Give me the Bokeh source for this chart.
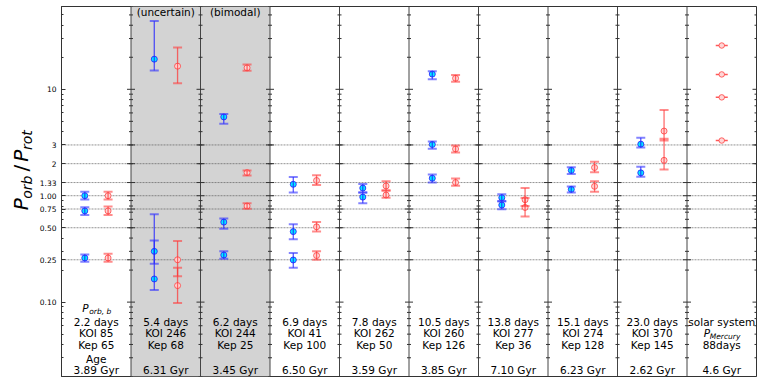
import numpy as np
from bokeh.plotting import figure
from bokeh.layouts import row
from bokeh.models import (ColumnDataSource, Whisker, TeeHead, Span, BoxAnnotation,
                          FixedTicker, Range1d)
from bokeh.core.properties import value
from bokeh.embed import file_html
from bokeh.resources import INLINE

# ---------------- data ----------------
n_cols = 10
shaded_cols = [1, 2]
notes = ["", "(uncertain)", "(bimodal)", "", "", "", "", "", "", ""]
line1 = ["2.2 days", "5.4 days", "6.2 days", "6.9 days", "7.8 days", "10.5 days",
         "13.8 days", "15.1 days", "23.0 days", "solar system"]
line2 = ["KOI 85", "KOI 246", "KOI 244", "KOI 41", "KOI 262", "KOI 260",
         "KOI 277", "KOI 274", "KOI 370", ""]
line3 = ["Kep 65", "Kep 68", "Kep 25", "Kep 100", "Kep 50", "Kep 126",
         "Kep 36", "Kep 128", "Kep 145", "88days"]
ages = ["3.89 Gyr", "6.31 Gyr", "3.45 Gyr", "6.50 Gyr", "3.59 Gyr", "3.85 Gyr",
        "7.10 Gyr", "6.23 Gyr", "2.62 Gyr", "4.6 Gyr"]

blue_col = [0, 0, 0, 1, 1, 1, 2, 2, 2, 3, 3, 3, 4, 4, 5, 5, 5, 6, 6, 7, 7, 8, 8]
blue_val = [1.00, 0.72, 0.26, 19.2, 0.30, 0.165, 5.5, 0.565, 0.277, 1.28, 0.46, 0.249,
            1.18, 0.97, 13.9, 3.03, 1.46, 0.958, 0.817, 1.73, 1.147, 3.05, 1.64]
blue_lo = [0.92, 0.66, 0.24, 15.0, 0.23, 0.13, 4.75, 0.49, 0.255, 1.07, 0.39, 0.21,
           1.07, 0.85, 12.4, 2.77, 1.33, 0.88, 0.745, 1.60, 1.07, 2.84, 1.51]
blue_hi = [1.09, 0.78, 0.28, 43.8, 0.67, 0.38, 5.85, 0.61, 0.30, 1.50, 0.54, 0.29,
           1.29, 1.07, 14.8, 3.23, 1.58, 1.03, 0.89, 1.85, 1.22, 3.50, 1.87]

red_col = [0, 0, 0, 1, 1, 1, 2, 2, 2, 3, 3, 3, 4, 4, 5, 5, 5, 6, 6, 7, 7, 8, 8]
red_val = [1.00, 0.72, 0.26, 16.5, 0.25, 0.143, 15.9, 1.65, 0.80, 1.39, 0.51, 0.274,
           1.235, 1.015, 12.7, 2.75, 1.33, 0.917, 0.776, 1.84, 1.225, 4.05, 2.15]
red_lo = [0.92, 0.66, 0.24, 11.4, 0.175, 0.098, 14.9, 1.55, 0.755, 1.26, 0.46, 0.25,
          1.12, 0.958, 11.8, 2.55, 1.24, 0.80, 0.638, 1.66, 1.09, 3.30, 1.76]
red_hi = [1.09, 0.79, 0.285, 24.7, 0.375, 0.21, 17.1, 1.73, 0.85, 1.56, 0.565, 0.30,
          1.365, 1.12, 13.6, 2.96, 1.45, 1.18, 0.95, 2.08, 1.365, 6.4, 3.43]

solar_col = [9, 9, 9, 9]
solar_val = [25.8, 13.8, 8.4, 3.3]

major_ticks = [0.10, 0.25, 0.50, 0.75, 1.00, 1.33, 2.0, 3.0, 10.0]
tick_labels = ["0.10", "0.25", "0.50", "0.75", "1.00", "1.33", "2", "3", "10"]
minor_ticks = [0.02, 0.03, 0.04, 0.05, 0.06, 0.07, 0.08, 0.09,
               0.2, 0.3, 0.4, 0.5, 0.6, 0.7, 0.8, 0.9,
               2, 3, 4, 5, 6, 7, 8, 9, 20, 30, 40, 50, 60]
ref_lines = [0.25, 0.50, 0.75, 1.00, 1.33, 2.0, 3.0]

ylabel_parts = ["P", "orb", "/", "P", "rot"]

# ---------------- style constants ----------------
FONT = "DejaVu Sans"
H = 378
LBL_W = 34
BLUE_DX, RED_DX, SOLAR_DX = 0.335, 0.67, 0.5
NOTE_Y = 53.0
PORB_Y, L1_Y, L2_Y, L3_Y, AGEH_Y, AGE_Y = 0.0878, 0.0655, 0.0511, 0.0399, 0.0290, 0.0228

p = figure(width=757 - LBL_W, height=H, y_axis_type="log",
           x_range=Range1d(0, n_cols), y_range=Range1d(0.02, 60),
           output_backend="svg", toolbar_location=None, x_axis_location=None,
           min_border_left=61 - LBL_W, min_border_right=1, min_border_top=6,
           min_border_bottom=2)
p.xgrid.visible = False
p.ygrid.visible = False
p.outline_line_color = "#333333"
p.outline_line_width = 1
p.background_fill_color = "white"

ax = p.yaxis[0]
ax.ticker = FixedTicker(ticks=major_ticks, minor_ticks=minor_ticks)
ax.major_label_overrides = {t: l for t, l in zip(major_ticks, tick_labels)}
ax.major_tick_in = 4
ax.major_tick_out = 0
ax.minor_tick_in = 2
ax.minor_tick_out = 0
ax.axis_line_color = "#333333"
ax.major_tick_line_color = "#333333"
ax.minor_tick_line_color = "#333333"
ax.major_label_text_font = FONT
ax.major_label_text_font_size = "7.5px"
ax.major_label_text_color = "black"
ax.major_label_standoff = 5

# shaded panels
for c in shaded_cols:
    p.add_layout(BoxAnnotation(left=c, right=c + 1, fill_color="#d3d3d3", fill_alpha=1.0,
                               line_color=None, level="underlay"))

# dashed reference lines
for v in ref_lines:
    p.add_layout(Span(location=v, dimension="width", line_color="#555555", line_width=0.8,
                      line_dash="2 1", line_alpha=0.8, level="underlay"))

# column borders
for c in range(1, n_cols):
    p.add_layout(Span(location=c, dimension="height", line_color="#444444", line_width=1,
                      level="underlay"))

# inward ticks on the column borders
bx_major, by_major, bx_minor, by_minor = [], [], [], []
for c in range(1, n_cols + 1):
    for t in major_ticks:
        bx_major.append(c)
        by_major.append(t)
    for t in minor_ticks:
        bx_minor.append(c)
        by_minor.append(t)
p.scatter(bx_major, by_major, marker="dash", size=8, line_color="#333333", line_width=1)
p.scatter(bx_minor, by_minor, marker="dash", size=4, line_color="#333333", line_width=1)

# error bars
bsrc = ColumnDataSource(dict(x=np.array(blue_col) + BLUE_DX, y=blue_val, lo=blue_lo, hi=blue_hi))
rsrc = ColumnDataSource(dict(x=np.array(red_col) + RED_DX, y=red_val, lo=red_lo, hi=red_hi))

p.add_layout(Whisker(base="x", upper="hi", lower="lo", source=bsrc, dimension="height",
                     line_color="#2020ff", line_alpha=0.75, line_width=1.3, level="glyph",
                     upper_head=TeeHead(size=9, line_color="#3030ff", line_alpha=0.6, line_width=2),
                     lower_head=TeeHead(size=9, line_color="#3030ff", line_alpha=0.6, line_width=2)))
p.add_layout(Whisker(base="x", upper="hi", lower="lo", source=rsrc, dimension="height",
                     line_color="#ff3030", line_alpha=0.7, line_width=1.3, level="glyph",
                     upper_head=TeeHead(size=9, line_color="#ff4040", line_alpha=0.6, line_width=2),
                     lower_head=TeeHead(size=9, line_color="#ff4040", line_alpha=0.6, line_width=2)))

p.scatter("x", "y", source=bsrc, marker="circle", size=6, fill_color="#00eeff",
          line_color="#2a2aff", line_width=0.9)
p.scatter("x", "y", source=rsrc, marker="circle", size=6, fill_color="#ffd6d6",
          line_color="#ff3a3a", line_width=0.9, line_alpha=0.85)

ssrc = ColumnDataSource(dict(x=np.array(solar_col) + SOLAR_DX, y=solar_val))
p.scatter("x", "y", source=ssrc, marker="dash", size=12, line_color="#ff3030",
          line_width=1.5, line_alpha=0.8)
p.scatter("x", "y", source=ssrc, marker="circle", size=5.5, fill_color="#ffd6d6",
          line_color="#ff3a3a", line_width=0.9, line_alpha=0.85)

# texts in each column
tsrc = ColumnDataSource(dict(x=np.arange(n_cols) + 0.5, notes=notes, l1=line1, l2=line2,
                             l3=line3, age=ages))
common = dict(source=tsrc, text_font=value(FONT), text_font_size="10.5px",
              text_align="center", text_baseline="middle", text_color="black")
p.text(x="x", y=NOTE_Y, text="notes", **common)
p.text(x="x", y=L1_Y, text="l1", **common)
p.text(x="x", y=L2_Y, text="l2", **common)
p.text(x="x", y=L3_Y, text="l3", **common)
p.text(x="x", y=AGE_Y, text="age", **common)

# column 1 extras: P_orb,b and Age
p.text(x=[0.5], y=[PORB_Y], text=["P"], text_font=value(FONT), text_font_style="italic",
       text_font_size="10.5px", text_align="left", text_baseline="middle", x_offset=-14)
p.text(x=[0.5], y=[PORB_Y], text=["orb, b"], text_font=value(FONT), text_font_style="italic",
       text_font_size="7.5px", text_align="left", text_baseline="middle", x_offset=-7, y_offset=3)
p.text(x=[0.5], y=[AGEH_Y], text=["Age"], text_font=value(FONT), text_font_size="10.5px",
       text_align="center", text_baseline="middle")
# solar column: P_Mercury
p.text(x=[9.5], y=[L2_Y], text=["P"], text_font=value(FONT), text_font_style="italic",
       text_font_size="10.5px", text_align="left", text_baseline="middle", x_offset=-18)
p.text(x=[9.5], y=[L2_Y], text=["Mercury"], text_font=value(FONT), text_font_style="italic",
       text_font_size="7.5px", text_align="left", text_baseline="middle", x_offset=-12, y_offset=3)

# ---------------- y-axis label panel (P_orb / P_rot, rotated) ----------------
lp = figure(width=LBL_W, height=H, x_range=Range1d(0, LBL_W), y_range=Range1d(0, H),
            output_backend="svg", toolbar_location=None, x_axis_location=None,
            y_axis_location=None, min_border=0)
lp.xgrid.visible = False
lp.ygrid.visible = False
lp.outline_line_color = None
lsrc = ColumnDataSource(dict(
    x=[20.5, 26.5, 20.5, 20.5, 26.5],
    y=[H - 202.0, H - 184.5, H - 165.0, H - 152.5, H - 136.5],
    text=ylabel_parts,
    size=["20px", "14px", "20px", "20px", "14px"],
    style=["italic", "italic", "normal", "italic", "italic"],
))
lp.text(x="x", y="y", text="text", source=lsrc, angle=np.pi / 2, text_font=value(FONT),
        text_font_size="size", text_font_style="style", text_align="center",
        text_baseline="middle", text_color="black")

layout = row(lp, p, spacing=0)
open("out.html", "w").write(file_html(layout, INLINE))
